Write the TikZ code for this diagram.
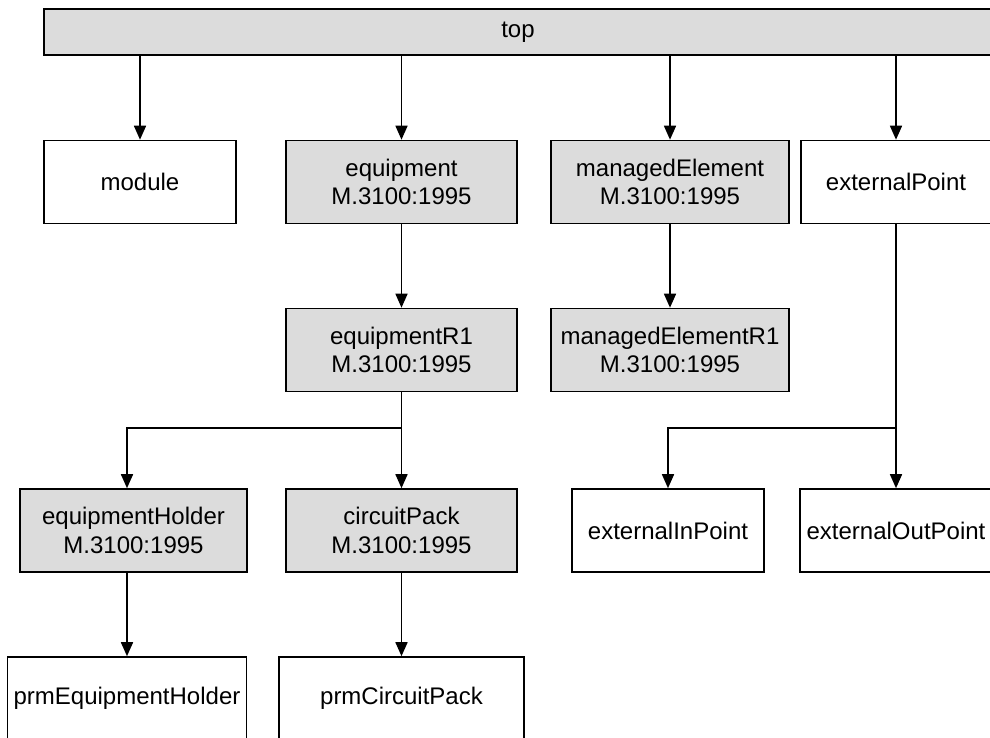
\documentclass[tikz,border=0pt]{standalone}
\usepackage{fontspec}
\setmainfont{Liberation Sans}
\usetikzlibrary{arrows.meta}
\definecolor{classgray}{RGB}{220,220,220}

\begin{document}
\begin{tikzpicture}[x=1pt,y=-1pt,
  every text node part/.style={align=center},
  font=\fontsize{24}{28.5}\selectfont,
  cls/.style={draw,line width=1.6pt,inner sep=0pt,minimum height=83pt},
  std/.style={cls,fill=classgray},
  inh/.style={-{Triangle[length=14pt,width=12pt]},line width=1.6pt}]
  \useasboundingbox (0,0) rectangle (990,737);

  % Root class
  \node[std,minimum width=948pt,minimum height=46pt] (T) at (518,32) {top};

  % First level
  \node[cls,minimum width=192pt] (M1) at (140,182) {module};
  \node[std,minimum width=231pt] (E1) at (401.5,182) {equipment\\M.3100:1995};
  \node[std,minimum width=238pt] (ME1) at (670,182) {managedElement\\M.3100:1995};
  \node[cls,minimum width=190pt] (XP1) at (896,182) {externalPoint};

  % Second level
  \node[std,minimum width=231pt] (E2) at (401.5,350) {equipmentR1\\M.3100:1995};
  \node[std,minimum width=238pt] (ME2) at (670,350) {managedElementR1\\M.3100:1995};

  % Third level
  \node[std,minimum width=227pt] (EH3) at (133.5,530.5) {equipmentHolder\\M.3100:1995};
  \node[std,minimum width=231pt] (CP3) at (401.5,530.5) {circuitPack\\M.3100:1995};
  \node[cls,minimum width=192pt] (XI3) at (668,530.5) {externalInPoint};
  \node[cls,minimum width=192pt] (XO3) at (896,530.5) {externalOutPoint};

  % Fourth level
  \node[cls,minimum width=239pt] (PEH4) at (127,698.5) {prmEquipmentHolder};
  \node[cls,minimum width=245pt] (PCP4) at (401.5,698.5) {prmCircuitPack};

  % Branch points
  \coordinate (J1) at (401.5,428);
  \coordinate (J2) at (896,428);

  \draw [inh] (M1.north |- T.south) to (M1.north);
  \draw [inh] (E1.north |- T.south) to (E1.north);
  \draw [inh] (ME1.north |- T.south) to (ME1.north);
  \draw [inh] (XP1.north |- T.south) to (XP1.north);
  \draw [inh] (E1) to (E2);
  \draw [inh] (ME1) to (ME2);
  \draw [inh] (E2.south) -- (J1) -| (PEH4.north |- EH3.north);
  \draw [inh] (J1) to (CP3.north);
  \draw [inh] (XP1.south) -- (J2) -| (XI3.north);
  \draw [inh] (J2) to (XO3.north);
  \draw [inh] (PEH4.north |- EH3.south) to (PEH4.north);
  \draw [inh] (CP3) to (PCP4);

\end{tikzpicture}
\end{document}
